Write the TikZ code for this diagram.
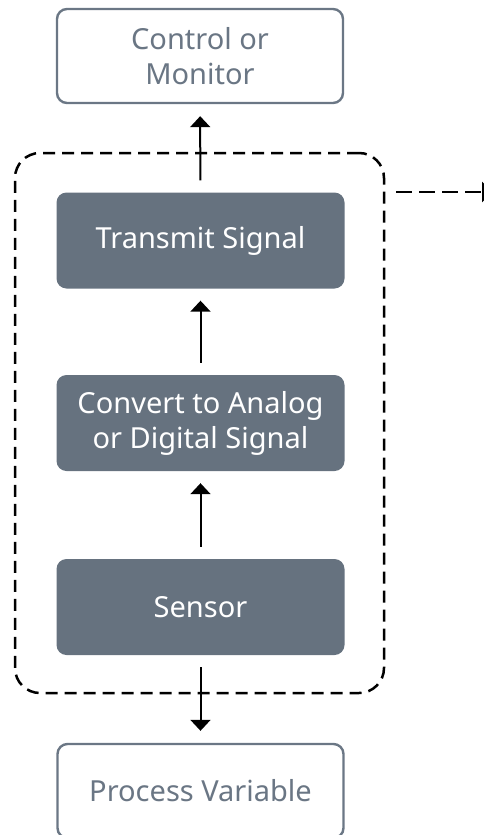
\documentclass[tikz,border=0pt]{standalone}
\usepackage{fontspec}
\setmainfont{Noto Sans}
\usetikzlibrary{arrows.meta}
\definecolor{boxfill}{HTML}{66727F}
\definecolor{boxline}{HTML}{6B7785}
\definecolor{boxtext}{HTML}{6A7684}
\begin{document}
\begin{tikzpicture}[x=1pt,y=-1pt,
  base/.style={minimum width=288pt,minimum height=96pt,rounded corners=10pt,align=center,
    font=\fontsize{29}{35}\selectfont,inner sep=0pt},
  darkbox/.style={base,fill=boxfill,text=white},
  lightbox/.style={base,draw=boxline,line width=2.4pt,fill=white,text=boxtext,minimum width=286pt,minimum height=94pt},
  conn/.style={line width=2pt,-{Triangle[width=20pt,length=11pt]},shorten <=12pt,shorten >=12pt},
  dashline/.style={line width=2.5pt,dash pattern=on 12pt off 7pt}
]
\useasboundingbox (0,0) rectangle (484,835);
\node[lightbox] (ctrl) at (200,56) {Control or\\Monitor};
\node[darkbox] (tx) at (200.5,240.5) {Transmit Signal};
\node[darkbox] (conv) at (200.5,423) {Convert to Analog\\or Digital Signal};
\node[darkbox] (sens) at (200.5,607) {Sensor};
\node[lightbox] (pv) at (200.5,791) {Process Variable};
\node[draw,dashline,rounded corners=25pt,minimum width=369pt,minimum height=540pt,inner sep=0pt] (frame) at (199.5,423) {};
\coordinate (out) at (493,192);
\draw[conn] (tx) -- (ctrl);
\draw[conn] (conv) -- (tx);
\draw[conn] (sens) -- (conv);
\draw[conn] (sens) -- (pv);
\draw[line width=2.5pt,dash pattern=on 16pt off 7pt,-{Triangle[width=20pt,length=11pt]},shorten <=11pt] (frame.east |- out) -- (out);
\end{tikzpicture}
\end{document}
